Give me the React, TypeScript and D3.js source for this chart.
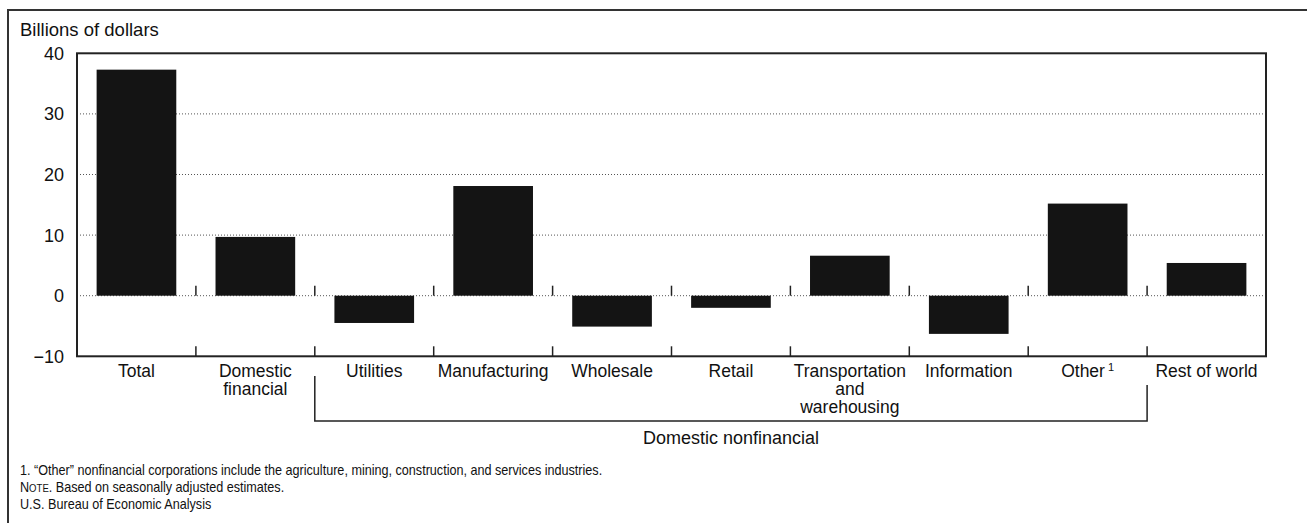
import React from "react";
import * as d3 from "d3";

const categories = [
  "Total",
  "Domestic financial",
  "Utilities",
  "Manufacturing",
  "Wholesale",
  "Retail",
  "Transportation and warehousing",
  "Information",
  "Other",
  "Rest of world",
];
const labelLines: string[][] = [
  ["Total"],
  ["Domestic", "financial"],
  ["Utilities"],
  ["Manufacturing"],
  ["Wholesale"],
  ["Retail"],
  ["Transportation", "and", "warehousing"],
  ["Information"],
  ["Other"],
  ["Rest of world"],
];
const values = [37.3, 9.7, -4.5, 18.1, -5.1, -2.0, 6.6, -6.3, 15.2, 5.4];
const yTicks = [-10, 0, 10, 20, 30, 40];
const gridValues = [0, 10, 20, 30];
const groupLabel = "Domestic nonfinancial";
const groupStart = "Utilities";
const groupEnd = "Other";
const yTitle = "Billions of dollars";
const footnotes = [
  "1. \u201COther\u201D nonfinancial corporations include the agriculture, mining, construction, and services industries.",
  "NOTE",
  "U.S. Bureau of Economic Analysis",
];

export default function App() {
  const W = 1307;
  const H = 523;
  const left = 77;
  const right = 1266;
  const top = 53.3;
  const bottom = 356.3;

  const x = d3
    .scaleBand<string>()
    .domain(categories)
    .range([left, right])
    .paddingInner(0.33)
    .paddingOuter(0.165);
  const step = x.step();
  const y = d3.scaleLinear().domain([-10, 40]).range([bottom, top]);

  const font = "'Liberation Sans', Arial, Helvetica, sans-serif";

  const boundaries = categories.slice(1).map((c) => (x(c) as number) - (step - x.bandwidth()) / 2);
  const gStartX = (x(groupStart) as number) - (step - x.bandwidth()) / 2;
  const gEndX = (x(groupEnd) as number) + x.bandwidth() + (step - x.bandwidth()) / 2;

  return (
    <svg
      width={W}
      height={H}
      style={{ position: "absolute", left: 0, top: 0, background: "#fff" }}
      fontFamily={font}
    >
      {/* outer frame */}
      <path d={`M8,${H + 5} V10 H${W + 5}`} fill="none" stroke="#333" strokeWidth={2} />

      {/* y title */}
      <text x={20} y={36} fontSize={18.5} fill="#111">
        {yTitle}
      </text>

      {/* gridlines */}
      {gridValues.map((v) => (
        <line
          key={v}
          x1={left}
          x2={right}
          y1={y(v)}
          y2={y(v)}
          stroke="#555"
          strokeWidth={1}
          strokeDasharray="1,2"
        />
      ))}

      {/* bars */}
      {categories.map((c, i) => (
        <rect
          key={c}
          x={x(c)}
          width={x.bandwidth()}
          y={y(Math.max(0, values[i]))}
          height={Math.abs(y(values[i]) - y(0))}
          fill="#141414"
        />
      ))}

      {/* ticks at zero line and bottom axis */}
      {boundaries.map((bx, i) => (
        <g key={i}>
          <line x1={bx} x2={bx} y1={y(0) - 10} y2={y(0)} stroke="#222" strokeWidth={1.5} />
          <line x1={bx} x2={bx} y1={bottom - 10} y2={bottom} stroke="#222" strokeWidth={1.5} />
        </g>
      ))}

      {/* plot frame */}
      <rect x={left} y={top} width={right - left} height={bottom - top} fill="none" stroke="#222" strokeWidth={2} />

      {/* y tick labels */}
      {yTicks.map((v) => (
        <text key={v} x={64} y={y(v) + 6.5} fontSize={18} textAnchor="end" fill="#111">
          {v < 0 ? `\u2212${Math.abs(v)}` : v}
        </text>
      ))}

      {/* category labels */}
      {categories.map((c, i) => {
        const cx = (x(c) as number) + x.bandwidth() / 2;
        return (
          <text key={c} x={cx} y={377} fontSize={17.5} textAnchor="middle" fill="#111">
            {labelLines[i].map((line, j) => (
              <tspan key={j} x={cx} dy={j === 0 ? 0 : 18}>
                {line}
                {c === "Other" ? (
                  <tspan fontSize={11} dy={-6}>
                    {" 1"}
                  </tspan>
                ) : null}
              </tspan>
            ))}
          </text>
        );
      })}

      {/* group bracket */}
      <path
        d={`M${gStartX},376 V421 H${gEndX} V385`}
        fill="none"
        stroke="#222"
        strokeWidth={1.5}
      />
      <text x={(gStartX + gEndX) / 2} y={444} fontSize={18} textAnchor="middle" fill="#111">
        {groupLabel}
      </text>

      {/* footnotes */}
      <g fontSize={14.5} fill="#111" transform="translate(20,0) scale(0.87,1)">
        <text x={0} y={475}>{footnotes[0]}</text>
        <text x={0} y={492}>
          N<tspan fontSize={11}>OTE</tspan>. Based on seasonally adjusted estimates.
        </text>
        <text x={0} y={509}>{footnotes[2]}</text>
      </g>
    </svg>
  );
}
